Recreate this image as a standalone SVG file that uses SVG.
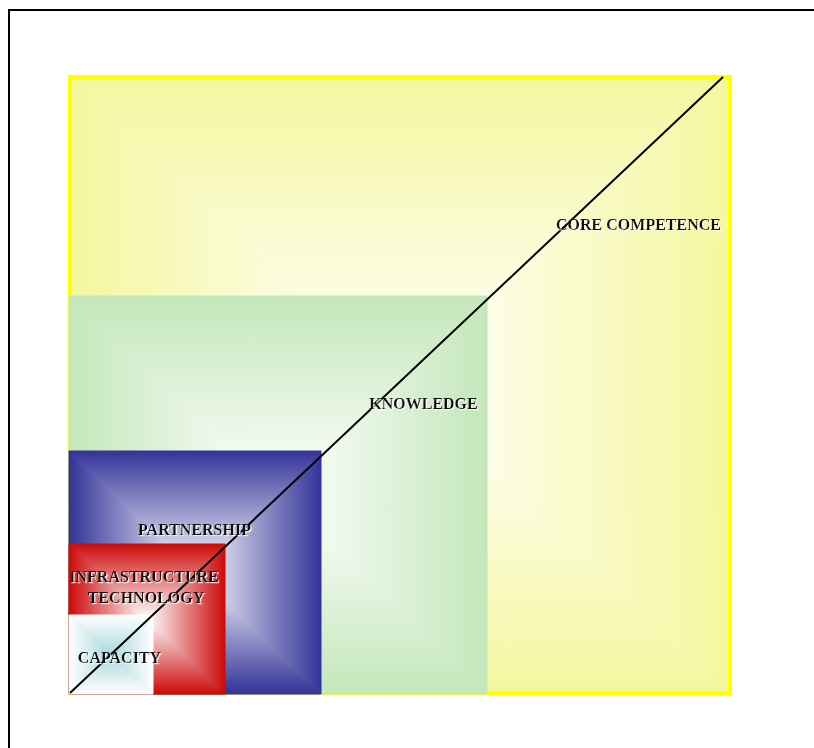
<svg xmlns="http://www.w3.org/2000/svg" width="814" height="748" viewBox="0 0 814 748">
<style>
  .lbl{font-family:"Liberation Serif","Times New Roman",serif;font-weight:bold;font-size:16px;fill:#111;text-anchor:middle;filter:url(#sh);}
  .frame{fill:none;stroke:#000;stroke-width:2;}
  path.t{stroke-width:1;stroke-linejoin:round;}
</style>
<defs>
  <filter id="sh" x="-10%" y="-30%" width="120%" height="160%">
    <feDropShadow dx="1.2" dy="1.2" stdDeviation="0.4" flood-color="#fff" flood-opacity="0.95"/>
  </filter>
  <linearGradient id="y"><stop offset="0" stop-color="#F4F79E"/><stop offset="1" stop-color="#FFFFFF"/></linearGradient>
  <linearGradient id="yT" href="#y" x1="0" y1="0" x2="0" y2="1"/>
  <linearGradient id="yB" href="#y" x1="0" y1="1" x2="0" y2="0"/>
  <linearGradient id="yL" href="#y" x1="0" y1="0" x2="1" y2="0"/>
  <linearGradient id="yR" href="#y" x1="1" y1="0" x2="0" y2="0"/>
  <linearGradient id="g"><stop offset="0" stop-color="#C3E7BA"/><stop offset="1" stop-color="#FFFFFF"/></linearGradient>
  <linearGradient id="gT" href="#g" x1="0" y1="0" x2="0" y2="1"/>
  <linearGradient id="gB" href="#g" x1="0" y1="1" x2="0" y2="0"/>
  <linearGradient id="gL" href="#g" x1="0" y1="0" x2="1" y2="0"/>
  <linearGradient id="gR" href="#g" x1="1" y1="0" x2="0" y2="0"/>
  <linearGradient id="b"><stop offset="0" stop-color="#333399"/><stop offset="1" stop-color="#FFFFFF"/></linearGradient>
  <linearGradient id="bT" href="#b" x1="0" y1="0" x2="0" y2="1"/>
  <linearGradient id="bB" href="#b" x1="0" y1="1" x2="0" y2="0"/>
  <linearGradient id="bL" href="#b" x1="0" y1="0" x2="1" y2="0"/>
  <linearGradient id="bR" href="#b" x1="1" y1="0" x2="0" y2="0"/>
  <linearGradient id="r"><stop offset="0" stop-color="#CC0A0A"/><stop offset="1" stop-color="#FFFFFF"/></linearGradient>
  <linearGradient id="rT" href="#r" x1="0" y1="0" x2="0" y2="1"/>
  <linearGradient id="rB" href="#r" x1="0" y1="1" x2="0" y2="0"/>
  <linearGradient id="rL" href="#r" x1="0" y1="0" x2="1" y2="0"/>
  <linearGradient id="rR" href="#r" x1="1" y1="0" x2="0" y2="0"/>
  <linearGradient id="c"><stop offset="0" stop-color="#FFFFFF"/><stop offset="1" stop-color="#A9D9DE"/></linearGradient>
  <linearGradient id="cT" href="#c" x1="0" y1="0" x2="0" y2="1"/>
  <linearGradient id="cB" href="#c" x1="0" y1="1" x2="0" y2="0"/>
  <linearGradient id="cL" href="#c" x1="0" y1="0" x2="1" y2="0"/>
  <linearGradient id="cR" href="#c" x1="1" y1="0" x2="0" y2="0"/>
</defs>
<rect width="814" height="748" fill="#fff"/>
<path class="frame" d="M9 748 V10 H814"/>

<g id="core-competence">
  <path class="t" d="M70 77 L730 77 L400 385 Z" fill="url(#yT)" stroke="url(#yT)"/>
  <path class="t" d="M70 693 L730 693 L400 385 Z" fill="url(#yB)" stroke="url(#yB)"/>
  <path class="t" d="M70 77 L70 693 L400 385 Z" fill="url(#yL)" stroke="url(#yL)"/>
  <path class="t" d="M730 77 L730 693 L400 385 Z" fill="url(#yR)" stroke="url(#yR)"/>
  <rect x="70" y="77" width="660" height="616" fill="none" stroke="#FFFF00" stroke-width="4"/>
</g>
<g id="knowledge">
  <path class="t" d="M69 296 L487 296 L278 495 Z" fill="url(#gT)" stroke="url(#gT)"/>
  <path class="t" d="M69 694 L487 694 L278 495 Z" fill="url(#gB)" stroke="url(#gB)"/>
  <path class="t" d="M69 296 L69 694 L278 495 Z" fill="url(#gL)" stroke="url(#gL)"/>
  <path class="t" d="M487 296 L487 694 L278 495 Z" fill="url(#gR)" stroke="url(#gR)"/>
</g>
<g id="partnership">
  <path class="t" d="M69 451 L321 451 L195 572.5 Z" fill="url(#bT)" stroke="url(#bT)"/>
  <path class="t" d="M69 694 L321 694 L195 572.5 Z" fill="url(#bB)" stroke="url(#bB)"/>
  <path class="t" d="M69 451 L69 694 L195 572.5 Z" fill="url(#bL)" stroke="url(#bL)"/>
  <path class="t" d="M321 451 L321 694 L195 572.5 Z" fill="url(#bR)" stroke="url(#bR)"/>
</g>
<g id="infrastructure-technology">
  <path class="t" d="M69 544 L225 544 L147 619 Z" fill="url(#rT)" stroke="url(#rT)"/>
  <path class="t" d="M69 694 L225 694 L147 619 Z" fill="url(#rB)" stroke="url(#rB)"/>
  <path class="t" d="M69 544 L69 694 L147 619 Z" fill="url(#rL)" stroke="url(#rL)"/>
  <path class="t" d="M225 544 L225 694 L147 619 Z" fill="url(#rR)" stroke="url(#rR)"/>
</g>
<g id="capacity">
  <path class="t" d="M69 615 L153 615 L111 654.5 Z" fill="url(#cT)" stroke="url(#cT)"/>
  <path class="t" d="M69 694 L153 694 L111 654.5 Z" fill="url(#cB)" stroke="url(#cB)"/>
  <path class="t" d="M69 615 L69 694 L111 654.5 Z" fill="url(#cL)" stroke="url(#cL)"/>
  <path class="t" d="M153 615 L153 694 L111 654.5 Z" fill="url(#cR)" stroke="url(#cR)"/>
</g>

<g id="connectors">
  <line x1="70" y1="693" x2="723" y2="77" stroke="#000" stroke-width="2"/>
</g>

<g id="labels">
  <text class="lbl" x="638.5" y="230">CORE COMPETENCE</text>
  <text class="lbl" x="423.5" y="409">KNOWLEDGE</text>
  <text class="lbl" x="194.5" y="535">PARTNERSHIP</text>
  <text class="lbl" x="144" y="582">INFRASTRUCTURE</text>
  <text class="lbl" x="146" y="603">TECHNOLOGY</text>
  <text class="lbl" x="119.5" y="663">CAPACITY</text>
</g>
</svg>
